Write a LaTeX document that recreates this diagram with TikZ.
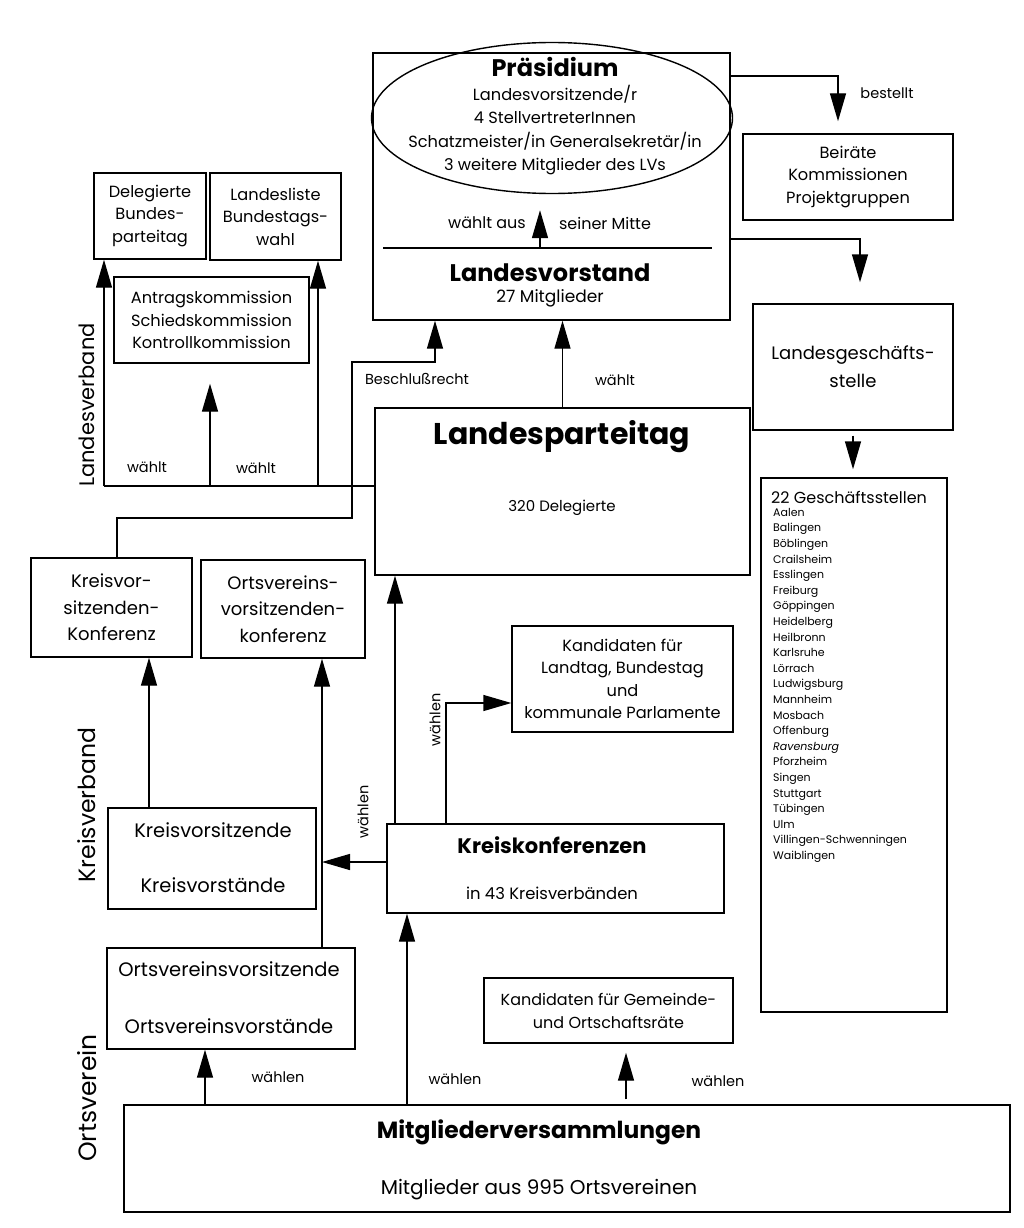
\documentclass[tikz,border=0pt]{standalone}
\usepackage{fontspec}
\setmainfont{Poppins}
\usetikzlibrary{positioning, arrows.meta, shapes.geometric}
\newcommand{\fsz}[2]{\fontsize{#1}{#2}\selectfont}

\begin{document}
\begin{tikzpicture}[
  x=1pt, y=-1pt,
  box/.style={draw, line width=1.4pt, inner sep=0pt, align=center, font=\fsz{16.2}{22.5}},
  lbl/.style={inner sep=0pt, align=center, font=\fsz{14.5}{20}},
  head/.style={inner sep=0pt, font=\fsz{24}{28}\bfseries},
  side/.style={inner sep=0pt, rotate=90, font=\fsz{21}{24}},
  arr/.style={-{Triangle[length=28pt,width=16pt]}, line width=1.4pt},
  ln/.style={line width=1.4pt}
]
\useasboundingbox (0,0) rectangle (1024,1228);

\node[box, minimum width=357pt, minimum height=267pt] (LV) at (551.5,186.5) {};
\node[draw, ellipse, line width=1.4pt, inner sep=0pt, minimum width=361pt, minimum height=151pt] (P) at (552,118) {};
\node[head] (Ph) at (555,67) {Präsidium};
\node[lbl, font=\fsz{16.2}{23.3}] (Pt) at (555,130) {Landesvorsitzende/r\\4 StellvertreterInnen\\Schatzmeister/in Generalsekretär/in\\3 weitere Mitglieder des LVs};
\node[lbl, font=\fsz{16}{20}] (wa) at (487,223) {wählt aus};
\node[lbl, font=\fsz{16}{20}] (sm) at (605,223) {seiner Mitte};
\coordinate (sepL) at (383,248);
\coordinate (sepR) at (712,248);
\coordinate (pa) at (540,248);
\node[head] (LVh) at (550,273) {Landesvorstand};
\node[lbl, font=\fsz{17}{20}] (LVt) at (550,298) {27 Mitglieder};

\node[box, minimum width=210pt, minimum height=86pt] (B) at (848,177) {Beiräte\\Kommissionen\\Projektgruppen};
\node[box, minimum width=200pt, minimum height=126pt, font=\fsz{18}{28}] (LG) at (853,367) {Landesgeschäfts-\\stelle};
\node[box, minimum width=186pt, minimum height=534pt] (GS) at (854,745) {};
\node[lbl, anchor=west, font=\fsz{16}{20}] (GSh) at (771,497) {22 Geschäftsstellen};
\node[lbl, anchor=north west, align=left, font=\fsz{11}{15.6}] (GSl) at (773,508)
  {Aalen\\Balingen\\Böblingen\\Crailsheim\\Esslingen\\Freiburg\\Göppingen\\Heidelberg\\Heilbronn\\Karlsruhe\\Lörrach\\Ludwigsburg\\Mannheim\\Mosbach\\Offenburg\\\textit{Ravensburg}\\Pforzheim\\Singen\\Stuttgart\\Tübingen\\Ulm\\Villingen-Schwenningen\\Waiblingen};

\node[box, minimum width=112pt, minimum height=86pt] (DB) at (150,216) {Delegierte\\Bundes-\\parteitag};
\node[box, minimum width=131pt, minimum height=87pt] (LL) at (275.5,216.5) {Landesliste\\Bundestags-\\wahl};
\node[box, minimum width=195pt, minimum height=86pt] (AK) at (211.5,320) {Antragskommission\\Schiedskommission\\Kontrollkommission};

\node[box, minimum width=375pt, minimum height=167pt] (LPT) at (562.5,491.5) {};
\node[head, font=\fsz{30}{32}\bfseries] (LPTh) at (562,437) {Landesparteitag};
\node[lbl, font=\fsz{15}{20}] (LPTt) at (562,508) {320 Delegierte};

\node[box, minimum width=161pt, minimum height=99pt, font=\fsz{18}{26.5}] (KVK) at (111.5,607.5) {Kreisvor-\\sitzenden-\\Konferenz};
\node[box, minimum width=164pt, minimum height=98pt, font=\fsz{18}{26.5}] (OVK) at (283,609) {Ortsvereins-\\vorsitzenden-\\konferenz};
\node[box, minimum width=221pt, minimum height=106pt] (KL) at (622.5,679) {Kandidaten für\\Landtag, Bundestag\\und\\kommunale Parlamente};

\node[box, minimum width=208pt, minimum height=101pt] (KV) at (212,858.5) {};
\node[lbl, font=\fsz{19.5}{22}] (KVa) at (213,830) {Kreisvorsitzende};
\node[lbl, font=\fsz{19.5}{22}] (KVb) at (213,885) {Kreisvorstände};
\node[box, minimum width=337pt, minimum height=89pt] (KK) at (555.5,868.5) {};
\node[head, font=\fsz{21}{24}\bfseries] (KKh) at (552,845) {Kreiskonferenzen};
\node[lbl, font=\fsz{16.4}{20}] (KKt) at (552,893) {in 43 Kreisverbänden};

\node[box, minimum width=248pt, minimum height=101pt] (OV) at (231,998.5) {};
\node[lbl, font=\fsz{19.5}{22}] (OVa) at (229,969) {Ortsvereinsvorsitzende};
\node[lbl, font=\fsz{19.5}{22}] (OVb) at (229,1026) {Ortsvereinsvorstände};
\node[box, minimum width=249pt, minimum height=65pt, font=\fsz{16}{23}] (KG) at (608.5,1010.5) {Kandidaten für Gemeinde-\\und Ortschaftsräte};

\node[box, minimum width=886pt, minimum height=107pt] (MV) at (567,1158.5) {};
\node[head, font=\fsz{23.4}{28}\bfseries] (MVh) at (539,1132) {Mitgliederversammlungen};
\node[lbl, font=\fsz{20}{22}] (MVt) at (539,1190) {Mitglieder aus 995 Ortsvereinen};

\node[side] (sLV) at (87,405) {Landesverband};
\node[side, font=\fsz{23.5}{26}] (sKV) at (87,805) {Kreisverband};
\node[side, font=\fsz{25}{28}] (sOV) at (87,1098) {Ortsverein};

\node[lbl] (l1) at (887,93) {bestellt};
\node[lbl] (l2) at (147,467) {wählt};
\node[lbl] (l3) at (256,468) {wählt};
\node[lbl] (l4) at (417,379) {Beschlußrecht};
\node[lbl] (l5) at (615,380) {wählt};
\node[lbl, rotate=90] (l6) at (363,812) {wählen};
\node[lbl, rotate=90] (l7) at (435,720) {wählen};
\node[lbl] (l8) at (278,1077) {wählen};
\node[lbl] (l9) at (455,1079) {wählen};
\node[lbl] (l10) at (718,1081) {wählen};

\coordinate (bst) at (838,76);
\coordinate (lgc) at (860,239);
\coordinate (lvb) at (104,486);
\coordinate (lvr) at (318,486);
\coordinate (akx) at (210,486);
\coordinate (b1) at (117,518);
\coordinate (b2) at (352,518);
\coordinate (b3) at (352,362);
\coordinate (b4) at (435,362);
\coordinate (kvx) at (149,0);
\coordinate (ovx) at (322,0);
\coordinate (kky) at (0,862);
\coordinate (kkx) at (395,0);
\coordinate (kl1) at (446,703);
\coordinate (mv1) at (205,0);
\coordinate (mv2) at (407,0);
\coordinate (mv3) at (626,0);

\draw[ln] (sepL) -- (sepR);
\draw[arr, shorten >=16pt] (pa) -- (pa |- P.south);
\draw[arr, shorten >=12pt] (LV.east |- bst) -| (B.north -| bst);
\draw[arr, shorten >=21pt] (LV.east |- lgc) -| (LG.north -| lgc);
\draw[arr, shorten <=5pt, shorten >=8pt] (LG.south) -- (LG.south |- GS.north);

\draw[ln] (LPT.west |- lvb) -- (lvb);
\draw[arr] (lvb) -- (DB.south -| lvb);
\draw[arr, shorten >=20pt] (akx) -- (AK.south -| akx);
\draw[arr] (lvr) -- (LL.south -| lvr);
\draw[arr] (KVK.north -| b1) -- (b1) -- (b2) -- (b3) -- (b4) -- (LV.south -| b4);
\draw[arr] (LPT.north) -- (LPT.north |- LV.south);

\draw[arr] (KV.north -| kvx) -- (KVK.south -| kvx);
\draw[arr] (OV.north -| ovx) -- (OVK.south -| ovx);
\draw[arr] (KK.west |- kky) -- (ovx |- kky);
\draw[arr] (KK.north -| kkx) -- (LPT.south -| kkx);
\draw[arr] (KK.north -| kl1) -- (kl1) -- (KL.west |- kl1);

\draw[arr] (MV.north -| mv1) -- (OV.south -| mv1);
\draw[arr] (MV.north -| mv2) -- (KK.south -| mv2);
\draw[arr, shorten <=5pt, shorten >=9pt] (MV.north -| mv3) -- (KG.south -| mv3);
\end{tikzpicture}
\end{document}
